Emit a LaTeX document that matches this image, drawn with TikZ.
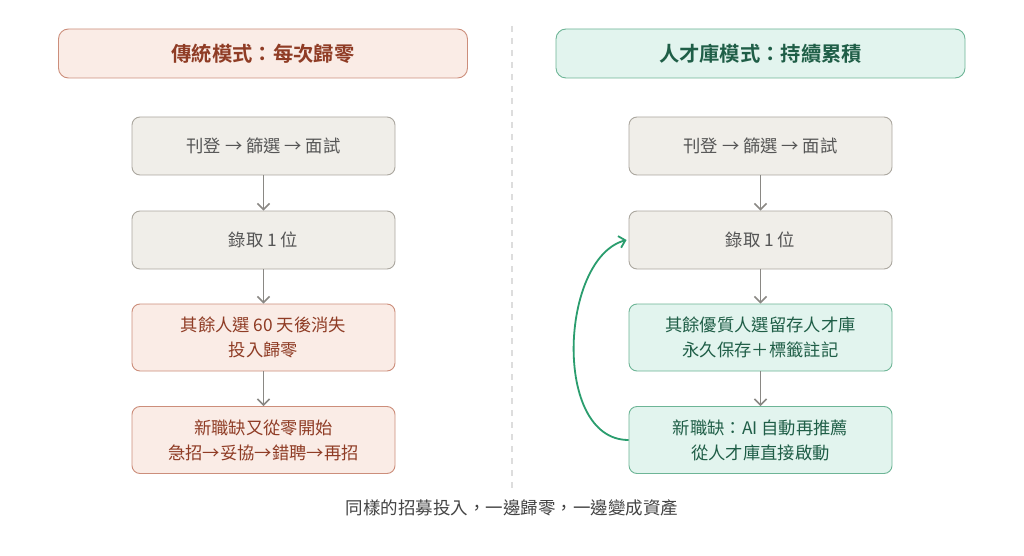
\documentclass[tikz,border=0pt]{standalone}
\usepackage{fontspec}
\setmainfont{Noto Sans CJK TC}
\newfontfamily\cjkbold{Noto Sans CJK TC Bold}
\usetikzlibrary{arrows.meta}
\definecolor{grayfill}{HTML}{F0EEE9}
\definecolor{grayline}{HTML}{ABA79F}
\definecolor{graytext}{HTML}{555555}
\definecolor{pinkfill}{HTML}{FAECE6}
\definecolor{pinkline}{HTML}{CC8E7B}
\definecolor{pinktext}{HTML}{8F3C25}
\definecolor{greenfill}{HTML}{E2F4EE}
\definecolor{greenline}{HTML}{6DB596}
\definecolor{greentext}{HTML}{1F5E47}
\definecolor{greenarrow}{HTML}{2A9D6E}
\definecolor{arrowgray}{HTML}{8A8884}
\definecolor{divider}{HTML}{DDDDDD}
\definecolor{foottext}{HTML}{444444}
\tikzset{
  box/.style={rounded corners=8pt, line width=0.9pt, minimum width=263pt, align=center, font=\fontsize{17.3pt}{25pt}\selectfont, inner sep=0pt},
  graybox/.style={box, fill=grayfill, draw=grayline, text=graytext, minimum height=58pt},
  pinkbox/.style={box, fill=pinkfill, draw=pinkline, text=pinktext, minimum height=67pt},
  greenbox/.style={box, fill=greenfill, draw=greenline, text=greentext, minimum height=67pt},
  titlebox/.style={rounded corners=10pt, line width=0.9pt, minimum width=409pt, minimum height=49pt, font=\cjkbold\fontsize{20.3pt}{24pt}\selectfont, inner sep=0pt},
  flow/.style={draw=arrowgray, line width=1.6pt, -{Straight Barb[length=6pt,width=12pt,line width=1.6pt]}},
}
\begin{document}
\begin{tikzpicture}[x=1pt,y=-1pt]
\useasboundingbox (0,0) rectangle (1024,556);
\fill[white] (0,0) rectangle (1024,556);
\coordinate (dtop) at (512,26);
\coordinate (dbot) at (512,490);
\draw[divider, line width=1.3pt, dash pattern=on 6pt off 6pt] (dtop) -- (dbot);

\node[titlebox, fill=pinkfill, draw=pinkline, text=pinktext] (lt) at (263,53.5) {傳統模式：每次歸零};
\node[titlebox, fill=greenfill, draw=greenline, text=greentext] (rt) at (760.5,53.5) {人才庫模式：持續累積};

\node[graybox] (l1) at (263.5,146) {刊登 → 篩選 → 面試};
\node[graybox] (l2) at (263.5,240) {錄取 1 位};
\node[pinkbox] (l3) at (263.5,337.5) {其餘人選 60 天後消失\\投入歸零};
\node[pinkbox] (l4) at (263.5,440) {新職缺又從零開始\\急招→妥協→錯聘→再招};

\node[graybox] (r1) at (760.5,146) {刊登 → 篩選 → 面試};
\node[graybox] (r2) at (760.5,240) {錄取 1 位};
\node[greenbox] (r3) at (760.5,337.5) {其餘優質人選留存人才庫\\永久保存＋標籤註記};
\node[greenbox] (r4) at (760.5,440) {新職缺：AI 自動再推薦\\從人才庫直接啟動};

\draw[flow] (l1) -- (l2);
\draw[flow] (l2) -- (l3);
\draw[flow] (l3) -- (l4);
\draw[flow] (r1) -- (r2);
\draw[flow] (r2) -- (r3);
\draw[flow] (r3) -- (r4);

\draw[greenarrow, line width=1.8pt, -{Straight Barb[length=6pt,width=12pt,line width=1.8pt]}]
  (r4.west) .. controls (552,440) and (560,258) .. ([xshift=-2pt]r2.west);

\node[text=foottext, font=\fontsize{17.5pt}{20pt}\selectfont] (foot) at (512,508) {同樣的招募投入，一邊歸零，一邊變成資產};
\end{tikzpicture}
\end{document}
